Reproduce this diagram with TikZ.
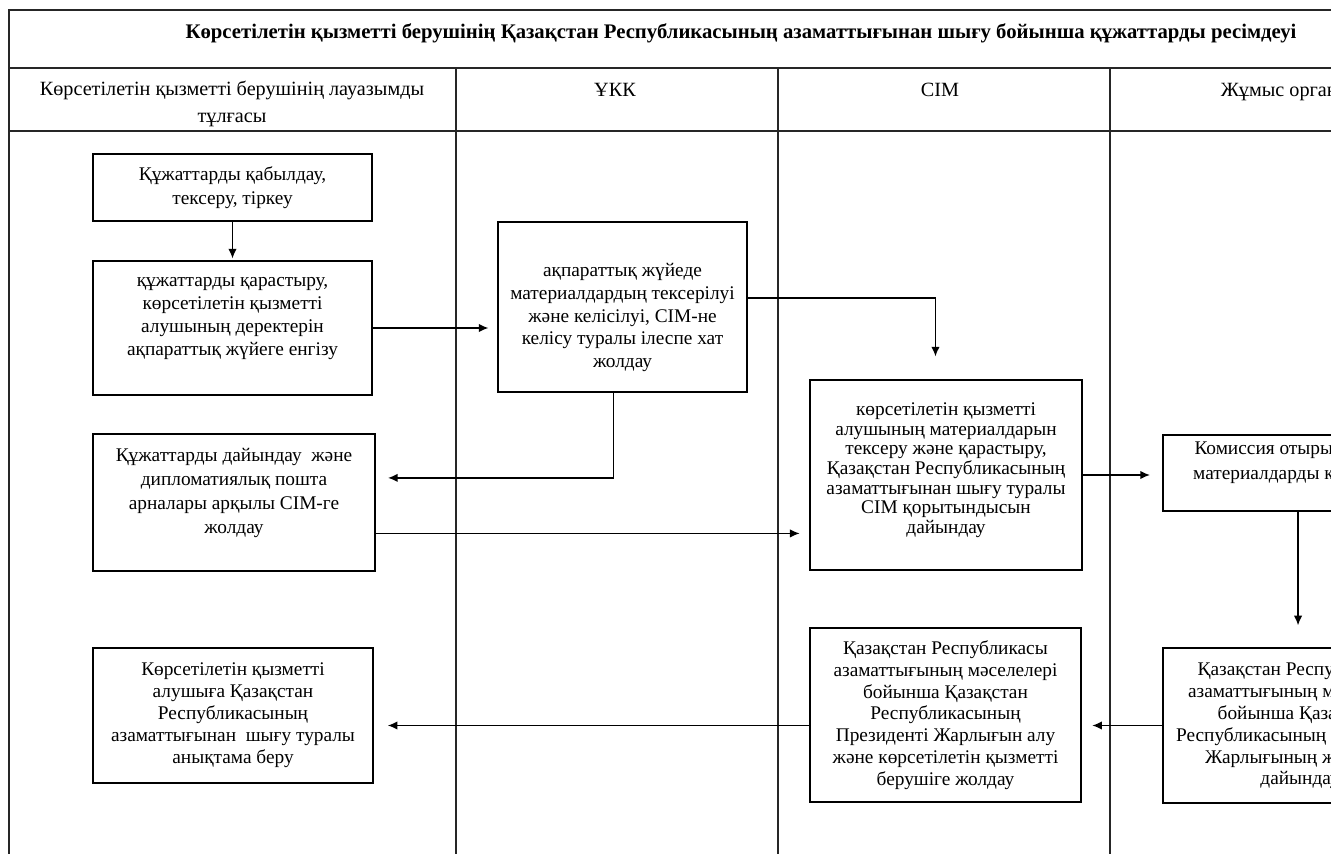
\documentclass[tikz,border=0pt]{standalone}
\usepackage{fontspec}
\setmainfont{Liberation Serif}
\usetikzlibrary{arrows.meta}

\tikzset{
	box/.style={draw, line width=0.8pt, align=center, inner sep=2pt, font=\fontsize{11}{13}\selectfont},
	head/.style={align=center, font=\fontsize{11.5}{15.3}\selectfont},
	lane/.style={line width=0.9pt, color=black!85},
	arr/.style={line width=0.85pt, -{Latex[length=5.5pt,width=4.8pt]}},
}

\begin{document}
\begin{tikzpicture}[x=0.02cm, y=-0.02cm]
			%%%%% START %%%%%
			\useasboundingbox (0,0) rectangle (1331,854);
			\clip (0,0) rectangle (1331,854);
			
			% lanes
			\draw[lane] (1400,10) -- (9,10) -- (9,870);
			\draw[lane] (9,68) -- (1400,68);
			\draw[lane] (9,131) -- (1400,131);
			\draw[lane] (456,68) -- (456,870);
			\draw[lane] (778,68) -- (778,870);
			\draw[lane] (1110,68) -- (1110,870);
			
			\node[head, font=\bfseries\fontsize{11.8}{14}\selectfont] (title) at (741,33) {Көрсетілетін қызметті берушінің Қазақстан Республикасының азаматтығынан шығу бойынша құжаттарды ресімдеуі};
			
			\node[head] (h1) at (232,104) {Көрсетілетін қызметті берушінің лауазымды\\тұлғасы};
			\node[head] (h2) at (615,90) {ҰКК};
			\node[head] (h3) at (940,90) {СІМ};
			\node[head] (h4) at (1286,92) {Жұмыс органы};
			
			% boxes
			\node[box, minimum width=279*0.02cm, minimum height=67*0.02cm, font=\fontsize{11}{13.6}\selectfont] (b1) at (232.5,187.5) {Құжаттарды қабылдау,\\тексеру, тіркеу};
			\node[box, minimum width=279*0.02cm, minimum height=134*0.02cm] (b2) at (232.5,328) {құжаттарды қарастыру,\\көрсетілетін қызметті\\алушының деректерін\\ақпараттық жүйеге енгізу\\~};
			\node[box, minimum width=249*0.02cm, minimum height=170*0.02cm] (b3) at (622.5,307) {\rule{0pt}{19.5pt}ақпараттық жүйеде\\материалдардың тексерілуі\\және келісілуі, СІМ-не\\келісу туралы ілеспе хат\\жолдау};
			\node[box, minimum width=282*0.02cm, minimum height=137*0.02cm, font=\fontsize{11}{13.6}\selectfont] (b4) at (234,502.5) {Құжаттарды дайындау~ және\\дипломатиялық пошта\\арналары арқылы СІМ-ге\\жолдау\\~};
			\node[box, minimum width=272*0.02cm, minimum height=190*0.02cm, font=\fontsize{11}{11.2}\selectfont] (b5) at (946,475) {көрсетілетін қызметті\\алушының материалдарын\\тексеру және қарастыру,\\Қазақстан Республикасының\\азаматтығынан шығу туралы\\СІМ қорытындысын\\дайындау\rule[-8pt]{0pt}{8pt}};
			\node[box, minimum width=280*0.02cm, minimum height=135*0.02cm, font=\fontsize{11}{12.5}\selectfont] (b6) at (233,715.5) {Көрсетілетін қызметті\\алушыға Қазақстан\\Республикасының\\азаматтығынан~ шығу туралы\\анықтама беру};
			\node[box, minimum width=271*0.02cm, minimum height=174*0.02cm, font=\fontsize{11}{12.4}\selectfont] (b7) at (945.5,715) {Қазақстан Республикасы\\азаматтығының мәселелері\\бойынша Қазақстан\\Республикасының\\Президенті Жарлығын алу\\және көрсетілетін қызметті\\берушіге жолдау};
			\node[box, minimum width=242*0.02cm, minimum height=76*0.02cm, font=\fontsize{11}{14}\selectfont] (b8) at (1284,473) {Комиссия отырысына\\материалдарды келісу\\~};
			\node[box, minimum width=274*0.02cm, minimum height=155*0.02cm, font=\fontsize{11}{12.4}\selectfont] (b9) at (1300,725.5) {Қазақстан Республикасы\\азаматтығының мәселелері\\бойынша Қазақстан\\Республикасының Президенті\\Жарлығының жобасын\\дайындау};
			
			% arrows
			\draw[arr, shorten >=1pt] (b1) -- (b2);
			\draw[arr, shorten >=5pt] (b2.east) -- (b2.east -| b3.west);
			\draw[arr, shorten >=13pt] ([yshift=5pt]b3.east) -| ([xshift=-6pt]b5.north);
			\draw[arr, shorten >=7pt] ([xshift=-5pt]b3.south) |- ([yshift=14pt]b4.east);
			\draw[arr, shorten >=5.5pt] ([yshift=-17.6pt]b4.east) -- ([yshift=-17.6pt]b4.east -| b5.west);
			\draw[arr, shorten >=7pt] (b5.east) -- (b5.east -| b8.west);
			\draw[arr, shorten >=12.5pt] ([xshift=8pt]b8.south) -- ([xshift=8pt]b8.south |- b9.north);
			\draw[arr, shorten >=6pt] (b9.west) -- (b9.west -| b7.east);
			\draw[arr, shorten >=8pt] (b9.west -| b7.west) -- (b9.west -| b6.east);
			
			%%%%% END %%%%%
\end{tikzpicture}
\end{document}
